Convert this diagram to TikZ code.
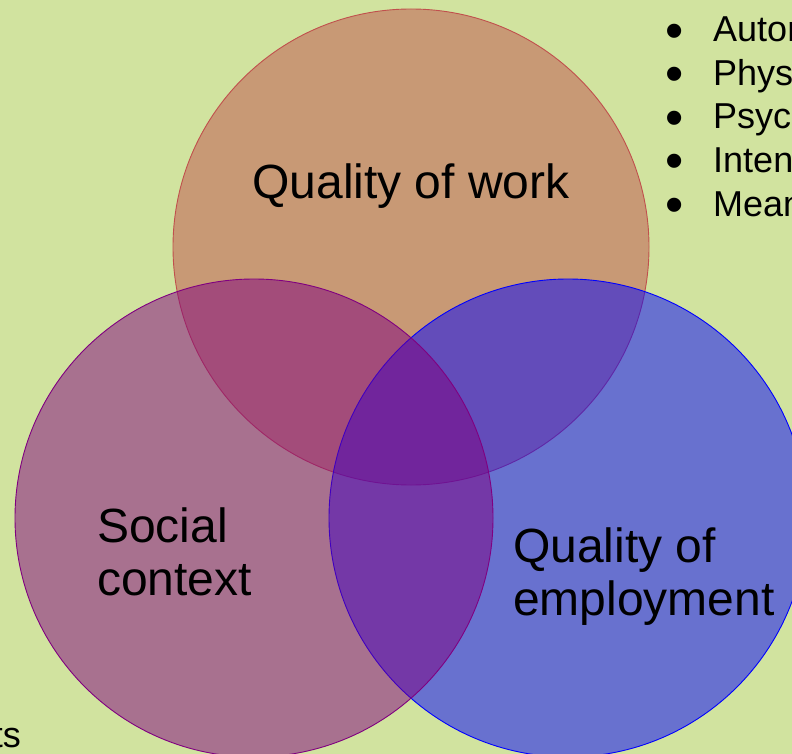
\documentclass[tikz,border=0pt]{standalone}
\usepackage{fontspec}
\setmainfont{Liberation Sans}
\definecolor{slidebg}{RGB}{209,227,159}
\definecolor{workred}{RGB}{192,80,77}
\definecolor{socialpurple}{RGB}{128,0,128}
\definecolor{employblue}{RGB}{0,0,255}

\begin{document}
\begin{tikzpicture}[x=1pt,y=-1pt]
  \tikzset{ring/.style = {fill opacity=0.5, draw opacity=1, line width=0.9pt}}
  \tikzset{biglabel/.style = {font=\fontsize{48}{58}\selectfont, inner sep=0pt}}
  \tikzset{listtext/.style = {font=\fontsize{36}{43}\selectfont, inner sep=0pt, anchor=base west}}
  \tikzset{listdot/.style = {font=\fontsize{52}{60}\selectfont, inner sep=0pt, anchor=center}}

  \useasboundingbox (0,0) rectangle (792,754);
  \fill[slidebg] (0,0) rectangle (792,754);

  % the three circles, red first so the others lie over it
  \draw[ring, fill=workred, draw=workred] (411,247) circle[radius=238pt];
  \draw[ring, fill=employblue, draw=employblue] (568,518) circle[radius=239pt];
  \draw[ring, fill=socialpurple, draw=socialpurple] (254,518) circle[radius=239pt];

  % circle labels
  \node[biglabel, anchor=base] (work) at (411,199) {Quality of work};
  \node[biglabel, anchor=base west] (social1) at (97,542) {Social};
  \node[biglabel, anchor=base west] (social2) at (97,595) {context};
  \node[biglabel, anchor=base west] (employ1) at (513,562) {Quality of};
  \node[biglabel, anchor=base west] (employ2) at (513,615) {employment};

  % bullet list on the right
  \foreach \y/\t [count=\i] in {42/Autonomy, 85.5/Physical, 129/Psychological, 172.5/Intensity, 216/Meaning}
  {
    \node[listdot] (dot\i) at (675,\y-6) {•};
    \node[listtext] (item\i) at (713,\y) {\t};
  }

  \node[listtext, anchor=base east] (tail) at (21,747) {ts};
\end{tikzpicture}
\end{document}
